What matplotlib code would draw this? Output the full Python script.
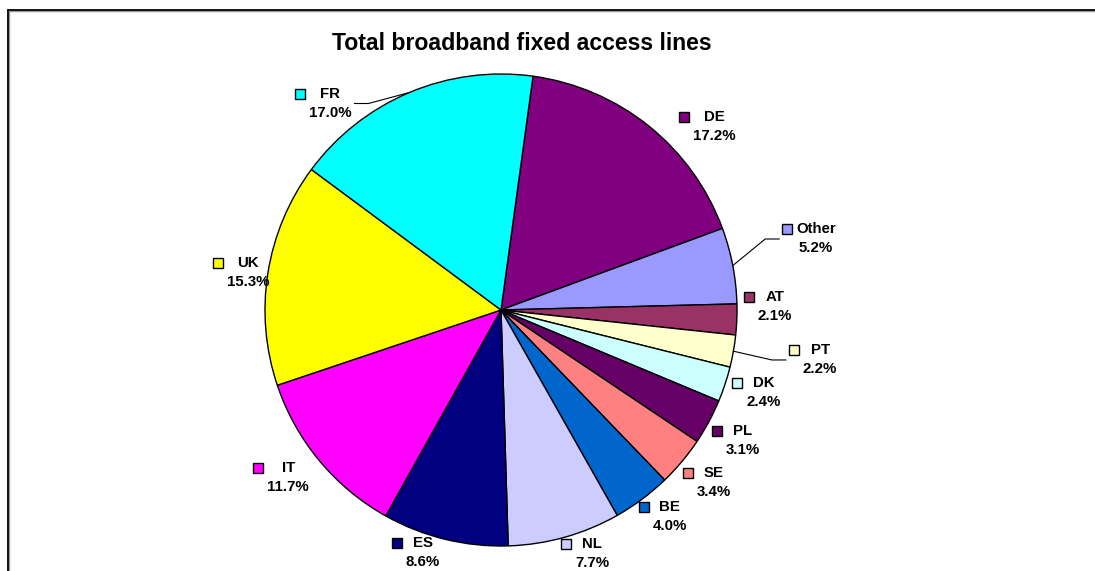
import numpy as np
import matplotlib.pyplot as plt
from matplotlib.patches import Rectangle

plt.rcParams['font.family'] = ['Liberation Sans', 'DejaVu Sans']

countries = ['DE', 'Other', 'AT', 'PT', 'DK', 'PL', 'SE', 'BE', 'NL', 'ES', 'IT', 'UK', 'FR']
shares = [17.2, 5.2, 2.1, 2.2, 2.4, 3.1, 3.4, 4.0, 7.7, 8.6, 11.7, 15.3, 17.0]
colors = ['#800080', '#9999FF', '#993366', '#FFFFCC', '#CCFFFF', '#660066', '#FF8080',
          '#0066CC', '#CCCCFF', '#000080', '#FF00FF', '#FFFF00', '#00FFFF']

# where each label sits: angle (deg) and distance (px) from the pie centre
label_angle = [40.7, 12.7, 0.8, -8.9, -17.4, -28.4, -39.1, -50.8, -69.5, -107.8, 218.3, 171.5, 129.6]
label_dist = [282, 323, 274, 323, 275, 275, 274, 267, 260, 255, 271, 256, 268]
with_leader = ['Other', 'PT', 'FR']

W, H = 1095, 571
fig = plt.figure(figsize=(W / 100, H / 100), dpi=100)
ax = fig.add_axes([0, 0, 1, 1])

cx, cy, R = 501, H - 310, 236
wedges, _ = ax.pie(shares, colors=colors, startangle=82.2, counterclock=False,
                   center=(cx, cy), radius=R,
                   wedgeprops=dict(edgecolor='black', linewidth=1))
ax.set_xlim(0, W)
ax.set_ylim(0, H)
ax.axis('off')

renderer = fig.canvas.get_renderer()
sq = 10
for name, val, col, ang, dist, w in zip(countries, shares, colors, label_angle, label_dist, wedges):
    a = np.radians(ang)
    lx, ly = cx + dist * np.cos(a), cy + dist * np.sin(a)
    t1 = ax.text(lx, ly + 9.5, name, ha='center', va='center', fontsize=10.8, fontweight='bold')
    t2 = ax.text(lx, ly - 9.5, f'{val:.1f}%', ha='center', va='center', fontsize=10.8, fontweight='bold')
    b1 = t1.get_window_extent(renderer)
    b2 = t2.get_window_extent(renderer)
    left = min(b1.x0, b2.x0)
    right = max(b1.x1, b2.x1)
    sq_x = left - 4 - sq
    ax.add_patch(Rectangle((sq_x, ly + 9.5 - sq / 2), sq, sq, facecolor=col,
                           edgecolor='black', lw=1))

    if name in with_leader:
        mid = np.radians((w.theta1 + w.theta2) / 2)
        ex, ey = cx + R * np.cos(mid), cy + R * np.sin(mid)
        if lx > cx:
            end_x = sq_x - 3
            knee_x = end_x - 14
        else:
            end_x = right + 3
            knee_x = end_x + 14
        ax.plot([ex, knee_x, end_x], [ey, ly, ly], color='black', lw=0.8)

ax.text(522, H - 44, 'Total broadband fixed access lines', ha='center', va='center',
        fontsize=16.6, fontweight='bold')

# chart area border (top and left edges)
ax.plot([9, 9, W], [0, H - 11, H - 11], color='#999999', lw=1, clip_on=False)
ax.plot([8, 8, W], [0, H - 10, H - 10], color='black', lw=1.3, clip_on=False,
        solid_joinstyle='miter')

fig.savefig('out.png', dpi=100)
